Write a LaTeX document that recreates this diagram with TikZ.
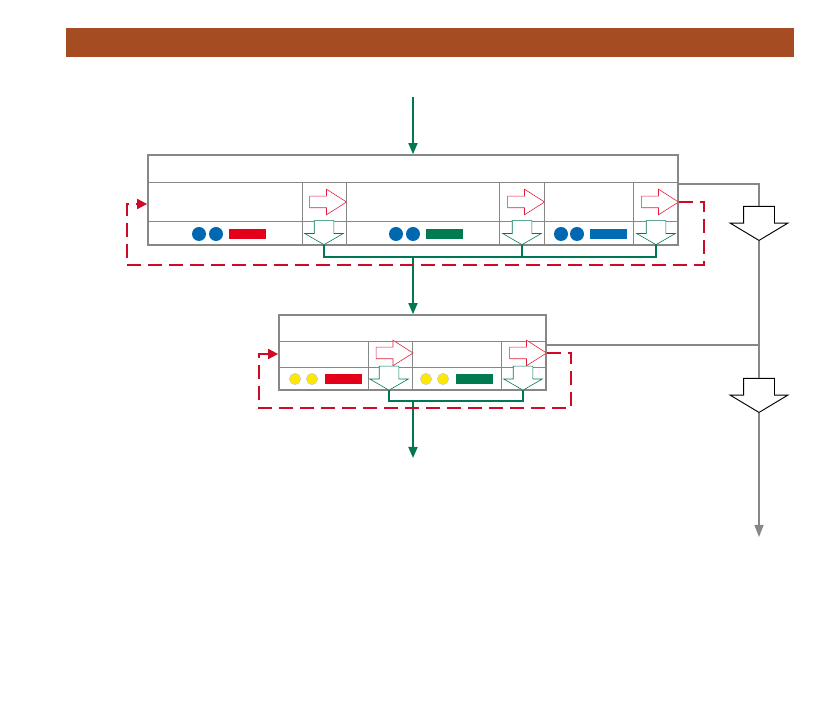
\documentclass[tikz,border=0pt]{standalone}
\usepackage{tikz}
\usetikzlibrary{arrows.meta,shapes.arrows}
\definecolor{rustbrown}{RGB}{166,76,34}
\definecolor{framegray}{RGB}{135,135,135}
\definecolor{feedred}{RGB}{226,30,60}
\definecolor{loopred}{RGB}{206,10,40}
\definecolor{flowgreen}{RGB}{0,120,82}
\definecolor{dotblue}{RGB}{0,104,177}
\definecolor{dotyellow}{RGB}{255,232,0}
\definecolor{barred}{RGB}{226,0,26}
\definecolor{bargreen}{RGB}{0,122,78}
\definecolor{barblue}{RGB}{0,108,180}
\tikzset{
  banner/.style={fill=rustbrown,inner sep=0pt,minimum width=218.4mm,minimum height=8.7mm},
  frame/.style={draw=framegray,line width=1.5pt,inner sep=0pt},
  grid/.style={framegray,line width=0.8pt},
  feed/.style={single arrow,draw=feedred,fill=white,line width=0.5pt,inner xsep=0pt,inner ysep=1.65mm,
               minimum height=11.1mm,single arrow head extend=2.1mm,single arrow tip angle=65},
  outlet/.style={single arrow,rotate=-90,draw=flowgreen,fill=white,line width=0.5pt,inner xsep=0pt,
                 inner ysep=2.85mm,minimum height=7.2mm,single arrow head extend=2.85mm,single arrow tip angle=120},
  drain/.style={single arrow,rotate=-90,draw=black,fill=white,line width=0.8pt,inner xsep=0pt,
                inner ysep=4.5mm,minimum height=10.2mm,single arrow head extend=4.05mm,single arrow tip angle=118},
  flow/.style={flowgreen,line width=1.5pt},
  feedflow/.style={flow,-{Triangle[length=3.3mm,width=2.7mm]}},
  loop/.style={loopred,line width=1.5pt,dash pattern=on 4.2mm off 2.1mm,-{Triangle[length=3mm,width=3mm]}},
  side/.style={framegray,line width=1.2pt},
  dot/.style={circle,fill=dotblue,inner sep=0pt,minimum size=4.2mm},
  yellowdot/.style={circle,draw=black!20,fill=dotyellow,line width=0.5pt,inner sep=0pt,minimum size=3.4mm},
  bar/.style={inner sep=0pt,minimum width=11.1mm,minimum height=3mm},
}
\begin{document}
\begin{tikzpicture}[x=0.3mm,y=-0.3mm]
  \path[use as bounding box] (0,0) rectangle (839,709);
  \node[banner] (banner) at (430,42.5) {};

  \draw[grid] (148,182) -- (678,182);
  \draw[grid] (148,221) -- (678,221);
  \draw[grid] (302,182) -- (302,245);
  \draw[grid] (346,182) -- (346,245);
  \draw[grid] (499,182) -- (499,245);
  \draw[grid] (544,182) -- (544,245);
  \draw[grid] (633,182) -- (633,245);
  \node[frame,minimum width=159mm,minimum height=27mm] (tab1) at (413,200) {};

  \draw[grid] (279,341) -- (546,341);
  \draw[grid] (279,367) -- (546,367);
  \draw[grid] (368,341) -- (368,390);
  \draw[grid] (412,341) -- (412,390);
  \draw[grid] (501,341) -- (501,390);
  \node[frame,minimum width=80.1mm,minimum height=22.5mm] (tab2) at (412.5,352.5) {};

  \node[feed] (r11) at (323.5,202) {};
  \node[feed] (r12) at (521.5,202) {};
  \node[feed] (r13) at (655.5,202) {};
  \node[feed] (r21) at (390,353) {};
  \node[feed] (r22) at (523.5,353) {};

  \node[outlet,anchor=tip] (o11) at (324,245) {};
  \node[outlet,anchor=tip] (o12) at (522,245) {};
  \node[outlet,anchor=tip] (o13) at (656,245) {};
  \node[outlet,anchor=tip] (o21) at (389,390.5) {};
  \node[outlet,anchor=tip] (o22) at (523,390.5) {};

  \node[dot] (b11) at (199,234) {};
  \node[dot] (b12) at (216,234) {};
  \node[bar,fill=barred] (m11) at (247.5,234) {};
  \node[dot] (b21) at (396,234) {};
  \node[dot] (b22) at (413,234) {};
  \node[bar,fill=bargreen] (m12) at (444.5,234) {};
  \node[dot] (b31) at (561,234) {};
  \node[dot] (b32) at (577,234) {};
  \node[bar,fill=barblue] (m13) at (608.5,234) {};

  \node[yellowdot] (y11) at (295,379) {};
  \node[yellowdot] (y12) at (312,379) {};
  \node[bar,fill=barred] (m21) at (343.5,379) {};
  \node[yellowdot] (y21) at (426,379) {};
  \node[yellowdot] (y22) at (443,379) {};
  \node[bar,fill=bargreen] (m22) at (474.5,379) {};

  \node[drain,anchor=tip] (d1) at (759,241) {};
  \node[drain,anchor=tip] (d2) at (759,413) {};

  \coordinate (source) at (413,97);
  \coordinate (bus1) at (413,257);
  \coordinate (bus2) at (413,401);
  \coordinate (outflow) at (413,458);
  \coordinate (sink) at (759,537);

  \draw[feedflow] (source) -- (tab1.north);
  \draw[flow] (o11.tip) |- (bus1) -| (o13.tip);
  \draw[flow] (o12.tip) -- (o12.tip |- bus1);
  \draw[feedflow] (bus1) -- (bus1 |- tab2.north);
  \draw[flow] (o21.tip) |- (bus2) -| (o22.tip);
  \draw[feedflow] (bus2) -- (outflow);

  \draw[loop] (tab1.east |- r13) -| (704,265) -| (127,204) -- (tab1.west |- 0,204);
  \draw[loop] (tab2.east |- r22) -| (571,408) -| (259,354) -- (tab2.west |- 0,354);

  \draw[side] (tab1.east |- 0,184) -| (d1.tail);
  \draw[side] (d1.tip) -- (d2.tail);
  \draw[side] (tab2.east |- 0,345) -- (d1.tip |- 0,345);
  \draw[side,-{Triangle[length=3.6mm,width=2.7mm]}] (d2.tip) -- (sink);
\end{tikzpicture}
\end{document}
